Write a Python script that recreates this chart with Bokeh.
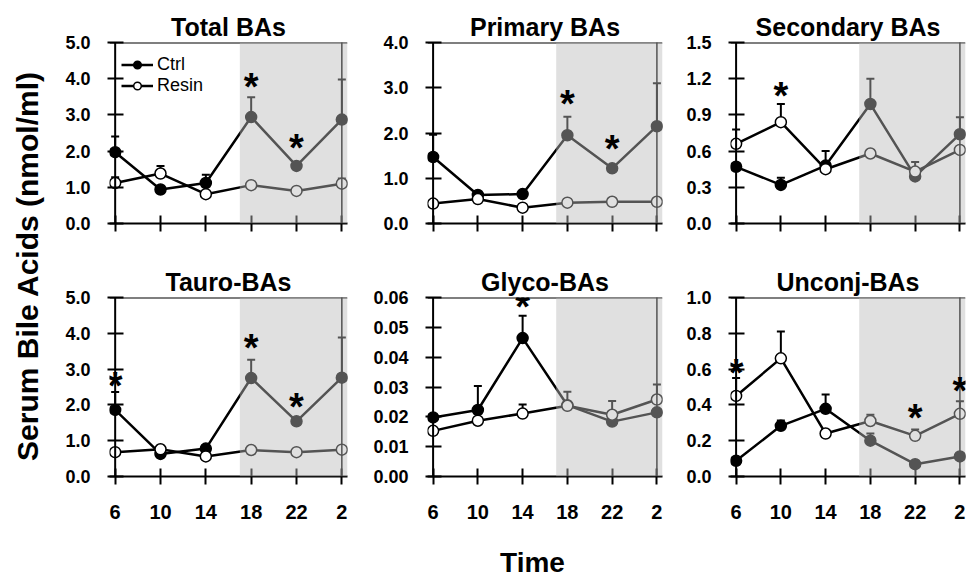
import math
from bokeh.plotting import figure
from bokeh.models import (Range1d, FixedTicker, PrintfTickFormatter, Whisker, TeeHead,
                          ColumnDataSource, LabelSet, Label, BoxAnnotation, Span,
                          Legend, LegendItem)
from bokeh.layouts import row, column
from bokeh.embed import file_html
from bokeh.resources import INLINE
from bokeh.core.properties import value

FONT = "Liberation Sans"

# ---------------- data ----------------
times = [6, 10, 14, 18, 22, 26]
time_labels = ["6", "10", "14", "18", "22", "2"]
shade_start = 17

total_ctrl = [1.97, 0.94, 1.12, 2.94, 1.59, 2.87]
total_ctrl_err = [0.43, 0, 0.23, 0.55, 0, 1.11]
total_resin = [1.12, 1.38, 0.81, 1.06, 0.90, 1.10]
total_resin_err = [0.16, 0.21, 0, 0, 0, 0.14]
total_ticks = [0, 1, 2, 3, 4, 5]
total_ast_x = [18, 22]
total_ast_y = [3.94, 2.25]

primary_ctrl = [1.47, 0.63, 0.65, 1.95, 1.22, 2.15]
primary_ctrl_err = [0.49, 0, 0, 0.41, 0, 0.95]
primary_resin = [0.44, 0.54, 0.35, 0.46, 0.48, 0.48]
primary_resin_err = [0, 0, 0, 0, 0, 0]
primary_ticks = [0, 1, 2, 3, 4]
primary_ast_x = [18, 22]
primary_ast_y = [2.78, 1.78]

secondary_ctrl = [0.47, 0.32, 0.48, 0.99, 0.39, 0.74]
secondary_ctrl_err = [0, 0.06, 0.12, 0.21, 0, 0.14]
secondary_resin = [0.66, 0.84, 0.45, 0.58, 0.43, 0.61]
secondary_resin_err = [0.12, 0.15, 0, 0, 0.08, 0]
secondary_ticks = [0, 0.3, 0.6, 0.9, 1.2, 1.5]
secondary_ast_x = [10]
secondary_ast_y = [1.11]

tauro_ctrl = [1.86, 0.63, 0.78, 2.75, 1.54, 2.76]
tauro_ctrl_err = [0.5, 0, 0.1, 0.51, 0, 1.12]
tauro_resin = [0.68, 0.76, 0.56, 0.74, 0.68, 0.75]
tauro_resin_err = [0, 0, 0, 0, 0, 0]
tauro_ticks = [0, 1, 2, 3, 4, 5]
tauro_ast_x = [6, 18, 22]
tauro_ast_y = [2.70, 3.77, 2.10]

glyco_ctrl = [0.0198, 0.0223, 0.0464, 0.0239, 0.0184, 0.0215]
glyco_ctrl_err = [0, 0.008, 0.0075, 0.0045, 0, 0]
glyco_resin = [0.0153, 0.0187, 0.0211, 0.0237, 0.0207, 0.0258]
glyco_resin_err = [0, 0, 0.003, 0, 0.0046, 0.005]
glyco_ticks = [0, 0.01, 0.02, 0.03, 0.04, 0.05, 0.06]
glyco_ast_x = [14]
glyco_ast_y = [0.0587]

unconj_ctrl = [0.088, 0.283, 0.378, 0.20, 0.069, 0.112]
unconj_ctrl_err = [0, 0.03, 0.08, 0.04, 0, 0]
unconj_resin = [0.45, 0.66, 0.24, 0.31, 0.227, 0.35]
unconj_resin_err = [0.10, 0.15, 0, 0.035, 0.035, 0.07]
unconj_ticks = [0, 0.2, 0.4, 0.6, 0.8, 1.0]
unconj_ast_x = [6, 22, 26]
unconj_ast_y = [0.61, 0.36, 0.51]

# ---------------- layout geometry ----------------
LABEL_W = 48
COL_LEFT = [61, 66, 62]
COL_FW = [238, 235, 235]
COL_RIGHT = [14, 6, 1]
ROW_TOP = [42, 39]
ROW_FH = [181, 179]
ROW_BOTTOM = [35, 58]
TIME_H = 43
XPAD = 0.5


def err_source(means, errs):
    xs, lo, hi = [], [], []
    for t, m, e in zip(times, means, errs):
        if e > 0:
            xs.append(t)
            lo.append(m)
            hi.append(m + e)
    return ColumnDataSource(dict(t=xs, lo=lo, hi=hi))


def make_panel(title, ctrl, ctrl_err, resin, resin_err, yticks, yfmt,
               ast_x, ast_y, col, rw, legend=False):
    p = figure(frame_width=COL_FW[col], frame_height=ROW_FH[rw],
               min_border_left=COL_LEFT[col], min_border_right=COL_RIGHT[col],
               min_border_top=ROW_TOP[rw], min_border_bottom=ROW_BOTTOM[rw],
               x_range=Range1d(times[0] - XPAD, times[-1] + XPAD),
               y_range=Range1d(yticks[0], yticks[-1]),
               output_backend="svg", toolbar_location=None, title=title)
    p.title.text_font = FONT
    p.title.text_font_size = "25px"
    p.title.text_font_style = "bold"
    p.title.text_color = "black"
    p.title.align = "center"
    p.title.standoff = 4
    p.grid.visible = False
    p.outline_line_color = None
    p.background_fill_color = "white"
    p.border_fill_color = "white"

    for ax in (p.xaxis[0], p.yaxis[0]):
        ax.axis_line_width = 2
        ax.axis_line_color = "black"
        ax.major_tick_line_width = 2
        ax.major_tick_line_color = "black"
        ax.minor_tick_line_color = None
        ax.major_label_text_font = FONT
        ax.major_label_text_font_style = "bold"
        ax.major_label_text_color = "black"

    # y axis: line drawn at the first time point, ticks centred on it
    p.yaxis.axis_line_color = None
    p.yaxis.major_tick_in = 14
    p.yaxis.major_tick_out = 2
    p.yaxis.ticker = FixedTicker(ticks=yticks)
    p.yaxis.formatter = PrintfTickFormatter(format=yfmt)
    p.yaxis.major_label_text_font_size = "18px"
    p.yaxis.major_label_standoff = 17
    p.add_layout(Span(location=times[0], dimension="height", line_color="black", line_width=2))

    p.xaxis.major_tick_in = 8
    p.xaxis.major_tick_out = 8
    p.xaxis.ticker = FixedTicker(ticks=times)
    if rw == 1:
        p.xaxis.major_label_overrides = {t: l for t, l in zip(times, time_labels)}
        p.xaxis.major_label_text_font_size = "20px"
        p.xaxis.major_label_standoff = 20
    else:
        p.xaxis.major_label_overrides = {t: "" for t in times}
        p.xaxis.major_label_text_font_size = "0px"
        p.xaxis.major_label_standoff = 0

    src = ColumnDataSource(dict(t=times, ctrl=ctrl, resin=resin))

    # error bars (upper only)
    for means, errs in ((ctrl, ctrl_err), (resin, resin_err)):
        es = err_source(means, errs)
        w = Whisker(source=es, base="t", lower="lo", upper="hi", dimension="height",
                    line_color="black", line_width=2,
                    upper_head=TeeHead(size=8, line_width=2, line_color="black"),
                    lower_head=None, level="underlay")
        p.add_layout(w)

    lc = p.line("t", "ctrl", source=src, line_color="black", line_width=2.5)
    lr = p.line("t", "resin", source=src, line_color="black", line_width=2.5)
    sc = p.scatter("t", "ctrl", source=src, size=11, fill_color="black",
                   line_color="black", line_width=1.5)
    sr = p.scatter("t", "resin", source=src, size=11, fill_color="white",
                   line_color="black", line_width=1.5)

    # frame borders (top and right)
    p.add_layout(Span(location=yticks[-1], dimension="width", line_color="black", line_width=2))
    p.add_layout(Span(location=times[-1], dimension="height", line_color="black", line_width=1.5))

    # dark-phase shading
    p.add_layout(BoxAnnotation(left=shade_start, fill_color="#bbbbbb", fill_alpha=0.45,
                               line_color=None, level="overlay"))

    # significance asterisks
    asrc = ColumnDataSource(dict(x=ast_x, y=ast_y, text=["*"] * len(ast_x)))
    p.add_layout(LabelSet(x="x", y="y", text="text", source=asrc,
                          text_font=value(FONT), text_font_size=value("38px"),
                          text_font_style=value("bold"), text_color="black",
                          text_align="center", text_baseline="middle",
                          y_offset=-6, level="overlay"))

    if legend:
        lg = Legend(items=[LegendItem(label="Ctrl", renderers=[lc, sc]),
                           LegendItem(label="Resin", renderers=[lr, sr])],
                    location="top_left")
        lg.label_text_font = FONT
        lg.label_text_font_size = "18px"
        lg.label_text_color = "black"
        lg.border_line_color = None
        lg.background_fill_alpha = 0
        lg.padding = 0
        lg.margin = 12
        lg.spacing = 0
        lg.glyph_width = 32
        lg.glyph_height = 19
        lg.label_height = 19
        lg.label_standoff = 4
        p.add_layout(lg)
    return p


p1 = make_panel("Total BAs", total_ctrl, total_ctrl_err, total_resin, total_resin_err,
                total_ticks, "%.1f", total_ast_x, total_ast_y, 0, 0, legend=True)
p2 = make_panel("Primary BAs", primary_ctrl, primary_ctrl_err, primary_resin, primary_resin_err,
                primary_ticks, "%.1f", primary_ast_x, primary_ast_y, 1, 0)
p3 = make_panel("Secondary BAs", secondary_ctrl, secondary_ctrl_err, secondary_resin,
                secondary_resin_err, secondary_ticks, "%.1f", secondary_ast_x, secondary_ast_y, 2, 0)
p4 = make_panel("Tauro-BAs", tauro_ctrl, tauro_ctrl_err, tauro_resin, tauro_resin_err,
                tauro_ticks, "%.1f", tauro_ast_x, tauro_ast_y, 0, 1)
p5 = make_panel("Glyco-BAs", glyco_ctrl, glyco_ctrl_err, glyco_resin, glyco_resin_err,
                glyco_ticks, "%.2f", glyco_ast_x, glyco_ast_y, 1, 1)
p6 = make_panel("Unconj-BAs", unconj_ctrl, unconj_ctrl_err, unconj_resin, unconj_resin_err,
                unconj_ticks, "%.1f", unconj_ast_x, unconj_ast_y, 2, 1)

# y-axis label figure
grid_h = sum(ROW_TOP) + sum(ROW_FH) + sum(ROW_BOTTOM)
lf = figure(width=LABEL_W, height=grid_h, x_range=Range1d(0, 1), y_range=Range1d(0, 1),
            x_axis_type=None, y_axis_type=None, min_border=0,
            output_backend="svg", toolbar_location=None)
lf.outline_line_color = None
lf.grid.visible = False
lf.add_layout(Label(x=0.56, y=0.503, text="Serum Bile Acids (nmol/ml)", angle=math.pi / 2,
                    text_align="center", text_baseline="middle", text_font=FONT,
                    text_font_size="30px", text_font_style="bold", text_color="black"))

total_w = LABEL_W + sum(COL_LEFT) + sum(COL_FW) + sum(COL_RIGHT)
tf = figure(width=total_w, height=TIME_H, x_range=Range1d(0, 1), y_range=Range1d(0, 1),
            x_axis_type=None, y_axis_type=None, min_border=0,
            output_backend="svg", toolbar_location=None)
tf.outline_line_color = None
tf.grid.visible = False
tf.add_layout(Label(x=532 / total_w, y=0.36, text="Time", text_align="center",
                    text_baseline="middle", text_font=FONT, text_font_size="28px",
                    text_font_style="bold", text_color="black"))

layout = column(row(lf, column(row(p1, p2, p3), row(p4, p5, p6))), tf)

open("out.html", "w").write(file_html(layout, INLINE))
